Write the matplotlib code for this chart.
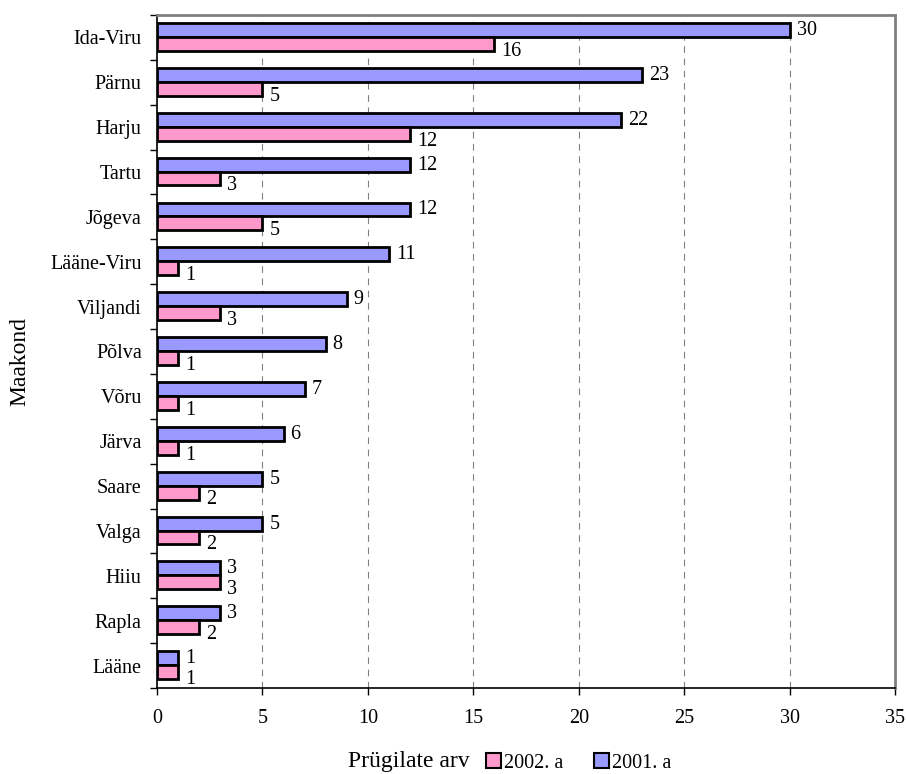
import numpy as np
import matplotlib.pyplot as plt
from matplotlib.patches import Patch

plt.rcParams['font.family'] = ['Liberation Serif', 'DejaVu Serif']

counties = ['Ida-Viru', 'Pärnu', 'Harju', 'Tartu', 'Jõgeva', 'Lääne-Viru', 'Viljandi',
            'Põlva', 'Võru', 'Järva', 'Saare', 'Valga', 'Hiiu', 'Rapla', 'Lääne']
y2001 = [30, 23, 22, 12, 12, 11, 9, 8, 7, 6, 5, 5, 3, 3, 1]
y2002 = [16, 5, 12, 3, 5, 1, 3, 1, 1, 1, 2, 2, 3, 2, 1]

blue = '#9999ff'
pink = '#ff99cc'
fs = 14.5

fig = plt.figure(figsize=(9.06, 7.74), dpi=100)
ax = fig.add_axes([157 / 906, 1 - 688 / 774, (895 - 157) / 906, (688 - 15) / 774])

n = len(counties)
pos = np.arange(n)[::-1]  # first county on top
h = 0.31
ax.barh(pos + h / 2 + 0.01, y2001, height=h, color=blue, edgecolor='black', linewidth=2, zorder=3)
ax.barh(pos - h / 2 + 0.01, y2002, height=h, color=pink, edgecolor='black', linewidth=2, zorder=3)

for p, v in zip(pos, y2001):
    ax.annotate(str(v), (v, p + h / 2), xytext=(5, 0), textcoords='offset points',
                va='center', ha='left', fontsize=fs)
for p, v in zip(pos, y2002):
    ax.annotate(str(v), (v, p - h / 2), xytext=(5, -5), textcoords='offset points',
                va='center', ha='left', fontsize=fs)

ax.set_xlim(0, 35)
ax.set_ylim(-0.5, n - 0.5)
ax.set_xticks(np.arange(0, 36, 5))
ax.set_yticks(pos)
ax.set_yticklabels(counties, fontsize=fs)
ax.set_yticks(np.arange(-0.5, n, 1), minor=True)
ax.tick_params(axis='y', which='major', length=0, pad=11)
ax.tick_params(axis='y', which='minor', length=5, width=1, direction='out')
ax.tick_params(axis='x', length=5, width=1, direction='out', labelsize=fs, pad=10)

for x in range(5, 35, 5):
    ax.axvline(x, color='#808080', linestyle=(0, (6, 5)), linewidth=0.8, zorder=1)

for side in ['top', 'right']:
    ax.spines[side].set_color('#808080')
    ax.spines[side].set_linewidth(2)
for side in ['left', 'bottom']:
    ax.spines[side].set_color('black')
    ax.spines[side].set_linewidth(1.2)

fig.text(20 / 906, 1 - 362 / 774, 'Maakond', fontsize=17, rotation=90, ha='center', va='center')
fig.text(409 / 906, 1 - 762 / 774, 'Prügilate arv', fontsize=17, ha='center', va='center')

handles = [Patch(facecolor=pink, edgecolor='black', linewidth=1.5, label='2002. a'),
           Patch(facecolor=blue, edgecolor='black', linewidth=1.5, label='2001. a')]
fig.legend(handles=handles, loc='center left', bbox_to_anchor=(486 / 906, 1 - 763 / 774),
           ncol=2, frameon=False, fontsize=fs, handlelength=0.75, handleheight=0.75,
           handletextpad=0.15, columnspacing=1.5, borderaxespad=0, borderpad=0)

fig.savefig('out.png', dpi=100)
